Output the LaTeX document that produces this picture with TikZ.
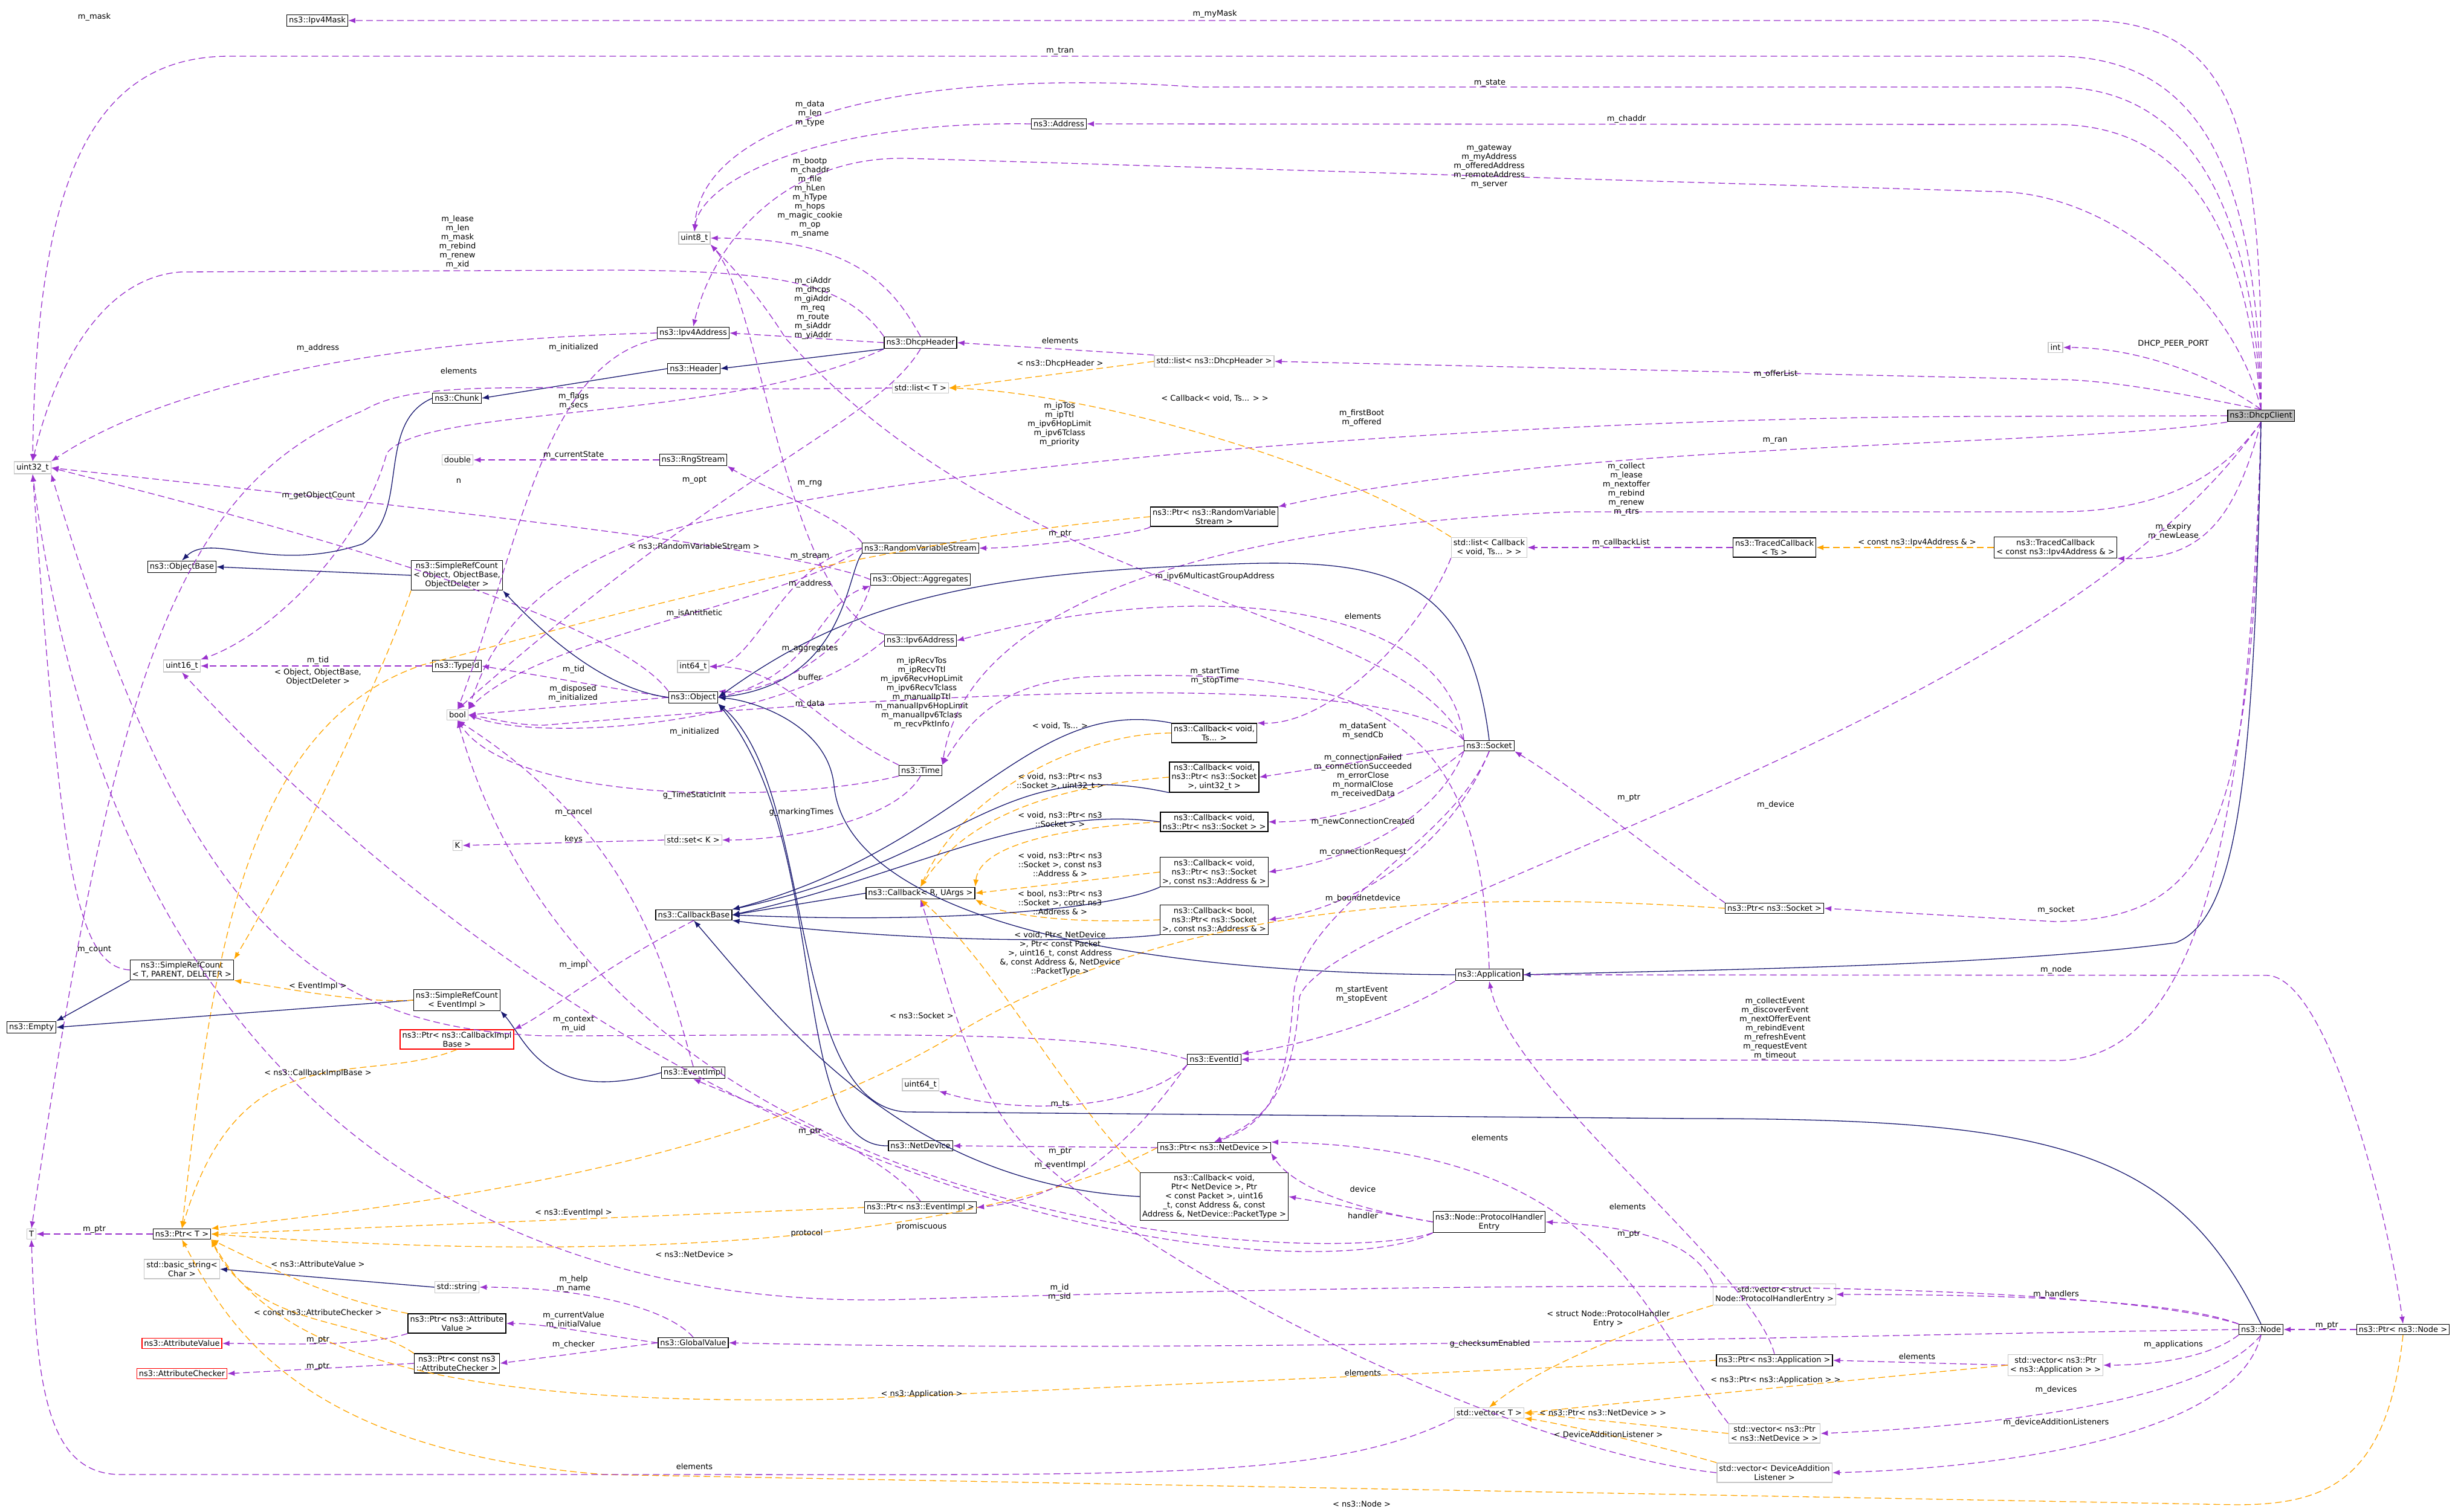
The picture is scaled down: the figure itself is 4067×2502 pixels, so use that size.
\documentclass[tikz,border=0pt]{standalone}
\usepackage{fontspec}
\setmainfont{DejaVu Sans}
\usetikzlibrary{arrows.meta}
\definecolor{memc}{HTML}{9A32CD}
\definecolor{inhc}{HTML}{191970}
\definecolor{tplc}{HTML}{FFA500}
\begin{document}
\begin{tikzpicture}[x=1pt,y=-1pt,
    every node/.style={font=\fontsize{13}{15}\selectfont,align=center},
    cls/.style={draw=black,line width=1.3pt,inner sep=3.5pt,fill=white},
    ext/.style={draw=gray!45,line width=1.3pt,inner sep=3.5pt,fill=white},
    redc/.style={draw=red,line width=1.3pt,inner sep=3.5pt,fill=white},
    mainc/.style={draw=black,line width=1.3pt,inner sep=3.5pt,fill=gray!55},
    lbl/.style={inner sep=0pt},
    mem/.style={draw=memc,dash pattern=on 11pt off 6pt,line width=1.3pt,-{Latex[length=12pt,width=9pt]}},
    inh/.style={draw=inhc,line width=1.3pt,-{Latex[length=12pt,width=9pt]}},
    tpl/.style={draw=tplc,dash pattern=on 11pt off 6pt,line width=1.3pt,-{Latex[length=12pt,width=9pt]}}]
  \useasboundingbox (0,0) rectangle (4067,2502);

  % nodes
  \node[mainc] (dc) at (3741,688) {ns3::DhcpClient};
  \node[cls] (mask) at (525,34) {ns3::Ipv4Mask};
  \node[ext] (uint32) at (54,774) {uint32\_t};
  \node[cls] (addr) at (1752,205) {ns3::Address};
  \node[ext] (uint8) at (1149,394) {uint8\_t};
  \node[cls] (ipv4) at (1147,551) {ns3::Ipv4Address};
  \node[cls] (header) at (1148,610) {ns3::Header};
  \node[cls] (chunk) at (756,659) {ns3::Chunk};
  \node[cls] (dhcph) at (1523,567) {ns3::DhcpHeader};
  \node[ext] (lsth) at (2009,598) {std::list< ns3::DhcpHeader >};
  \node[ext] (lstt) at (1523,642) {std::list< T >};
  \node[ext] (int) at (3401,575) {int};
  \node[ext] (dbl) at (757,761) {double};
  \node[cls] (rng) at (1147,761) {ns3::RngStream};
  \node[cls] (prvs) at (2009,855) {ns3::Ptr< ns3::RandomVariable\\Stream >};
  \node[cls] (rvs) at (1523,907) {ns3::RandomVariableStream};
  \node[cls] (aggr) at (1523,959) {ns3::Object::Aggregates};
  \node[ext] (lstcb) at (2464,906) {std::list< Callback\\< void, Ts... > >};
  \node[cls] (tcts) at (2936,906) {ns3::TracedCallback\\< Ts >};
  \node[cls] (tcip) at (3401,906) {ns3::TracedCallback\\< const ns3::Ipv4Address \& >};
  \node[cls] (ipv6) at (1523,1060) {ns3::Ipv6Address};
  \node[cls] (objbase) at (301,938) {ns3::ObjectBase};
  \node[cls] (srcobj) at (756,952) {ns3::SimpleRefCount\\< Object, ObjectBase,\\ObjectDeleter >};
  \node[ext] (uint16) at (301,1102) {uint16\_t};
  \node[cls] (typeid) at (756,1102) {ns3::TypeId};
  \node[ext] (int64) at (1147,1103) {int64\_t};
  \node[cls] (obj) at (1147,1154) {ns3::Object};
  \node[ext] (bool) at (757,1183) {bool};
  \node[cls] (cbts) at (2009,1213) {ns3::Callback< void,\\Ts... >};
  \node[cls] (sock) at (2464,1234) {ns3::Socket};
  \node[cls] (time) at (1523,1275) {ns3::Time};
  \node[cls] (cbu32) at (2009,1286) {ns3::Callback< void,\\ns3::Ptr< ns3::Socket\\>, uint32\_t >};
  \node[cls] (cbsock) at (2009,1360) {ns3::Callback< void,\\ns3::Ptr< ns3::Socket > >};
  \node[cls] (cbaddr) at (2009,1443) {ns3::Callback< void,\\ns3::Ptr< ns3::Socket\\>, const ns3::Address \& >};
  \node[cls] (cbbool) at (2009,1522) {ns3::Callback< bool,\\ns3::Ptr< ns3::Socket\\>, const ns3::Address \& >};
  \node[cls] (cbr) at (1523,1478) {ns3::Callback< R, UArgs >};
  \node[ext] (kk) at (757,1399) {K};
  \node[ext] (setk) at (1147,1390) {std::set< K >};
  \node[cls] (cbbase) at (1148,1514) {ns3::CallbackBase};
  \node[cls] (psock) at (2936,1503) {ns3::Ptr< ns3::Socket >};
  \node[cls] (srct) at (301,1605) {ns3::SimpleRefCount\\< T, PARENT, DELETER >};
  \node[cls] (srcev) at (756,1655) {ns3::SimpleRefCount\\< EventImpl >};
  \node[cls] (empty) at (52,1700) {ns3::Empty};
  \node[redc] (pcib) at (756,1720) {ns3::Ptr< ns3::CallbackImpl\\Base >};
  \node[cls] (appl) at (2464,1613) {ns3::Application};
  \node[cls] (evid) at (2009,1753) {ns3::EventId};
  \node[cls] (evimpl) at (1147,1775) {ns3::EventImpl};
  \node[ext] (u64) at (1523,1795) {uint64\_t};
  \node[cls] (ndev) at (1523,1896) {ns3::NetDevice};
  \node[cls] (pnd) at (2009,1899) {ns3::Ptr< ns3::NetDevice >};
  \node[cls] (cbnd) at (2009,1980) {ns3::Callback< void,\\Ptr< NetDevice >, Ptr\\< const Packet >, uint16\\\_t, const Address \&, const\\Address \&, NetDevice::PacketType >};
  \node[cls] (pev) at (1523,1998) {ns3::Ptr< ns3::EventImpl >};
  \node[cls] (phe) at (2464,2022) {ns3::Node::ProtocolHandler\\Entry};
  \node[ext] (tt) at (52,2042) {T};
  \node[cls] (ptrt) at (301,2042) {ns3::Ptr< T >};
  \node[ext] (bstr) at (301,2100) {std::basic\_string<\\Char >};
  \node[ext] (sstr) at (756,2130) {std::string};
  \node[ext] (vphe) at (2936,2142) {std::vector< struct\\Node::ProtocolHandlerEntry >};
  \node[cls] (pav) at (756,2190) {ns3::Ptr< ns3::Attribute\\Value >};
  \node[cls] (node) at (3741,2200) {ns3::Node};
  \node[cls] (pnode) at (3976,2200) {ns3::Ptr< ns3::Node >};
  \node[redc] (avl) at (301,2223) {ns3::AttributeValue};
  \node[cls] (gv) at (1147,2222) {ns3::GlobalValue};
  \node[cls] (papp) at (2936,2251) {ns3::Ptr< ns3::Application >};
  \node[cls] (pach) at (756,2256) {ns3::Ptr< const ns3\\::AttributeChecker >};
  \node[ext] (vpapp) at (3401,2259) {std::vector< ns3::Ptr\\< ns3::Application > >};
  \node[redc] (ach) at (301,2273) {ns3::AttributeChecker};
  \node[ext] (vect) at (2464,2338) {std::vector< T >};
  \node[ext] (vpnd) at (2936,2372) {std::vector< ns3::Ptr\\< ns3::NetDevice > >};
  \node[ext] (vdal) at (2936,2437) {std::vector< DeviceAddition\\Listener >};

  % DhcpClient members
  \draw[mem] (dc.north) .. controls (3745,200) and (3700,22) .. (3420,34) -- (mask.east);
  \draw[mem] (dc.north) .. controls (3735,300) and (3650,93) .. (3400,93) -- (380,93) .. controls (150,93) and (60,300) .. (uint32.north);
  \draw[mem] (dc.north) .. controls (3725,300) and (3600,144) .. (3400,144) -- (1980,144) .. controls (1500,110) and (1160,200) .. (uint8.north);
  \draw[mem] (dc.north) .. controls (3715,350) and (3600,206) .. (3400,206) -- (addr.east);
  \draw[mem] (dc.north) .. controls (3700,500) and (3500,317) .. (3300,317) -- (1500,262) .. controls (1300,258) and (1180,400) .. (ipv4.north);
  \draw[mem] (dc.north) .. controls (3690,640) and (3560,575) .. (int.east);
  \draw[mem] (dc.north) .. controls (3650,660) and (3500,628) .. (3400,628) -- (lsth.east);
  \draw[mem] (dc.west) -- (3300,689) .. controls (2600,689) and (1500,760) .. (1100,880) .. controls (850,960) and (800,1100) .. (bool.north east);
  \draw[mem] (dc.south west) .. controls (3400,740) and (2600,730) .. (prvs.north east);
  \draw[mem] (dc.south) .. controls (3650,830) and (3500,847) .. (3400,847) -- (2600,847) .. controls (2000,870) and (1600,1000) .. (time.north east);
  \draw[mem] (dc.south) .. controls (3700,850) and (3650,928) .. (tcip.south east);
  \draw[mem] (dc.south) .. controls (3730,1400) and (3650,1520) .. (3400,1525) -- (psock.east);
  \draw[mem] (dc.south) .. controls (3400,1200) and (2200,1500) .. (2150,1650) .. controls (2140,1800) and (2100,1850) .. (pnd.north);
  \draw[mem] (dc.south) .. controls (3720,1500) and (3600,1755) .. (3400,1755) -- (evid.east);
  \draw[inh] (dc.south) .. controls (3730,1300) and (3700,1520) .. (3600,1560) .. controls (3300,1600) and (2800,1605) .. (appl.east);
  \draw[mem] (appl.east) -- (3750,1614) .. controls (3850,1614) and (3950,2000) .. (pnode.north);

  % headers and addresses
  \draw[mem] (addr.west) .. controls (1350,200) and (1160,300) .. (uint8.north);
  \draw[mem] (dhcph.north) .. controls (1480,480) and (1420,394) .. (uint8.east);
  \draw[mem] (dhcph.west) -- (ipv4.east);
  \draw[mem] (dhcph.north west) .. controls (1400,470) and (1300,447) .. (1000,447) -- (300,450) .. controls (150,460) and (80,650) .. (uint32.north);
  \draw[mem] (dhcph.south west) .. controls (1200,700) and (700,670) .. (640,750) .. controls (600,900) and (450,1050) .. (uint16.north east);
  \draw[mem] (dhcph.south) .. controls (1450,700) and (1200,780) .. (bool.north);
  \draw[inh] (dhcph.south west) -- (header.east);
  \draw[inh] (header.west) -- (chunk.east);
  \draw[inh] (chunk.west) .. controls (620,700) and (680,850) .. (600,900) .. controls (450,950) and (350,880) .. (objbase.north);
  \draw[mem] (lsth.north west) -- (dhcph.east);
  \draw[tpl] (lsth.west) -- (lstt.east);
  \draw[tpl] (lstcb.north west) .. controls (2200,760) and (1800,650) .. (lstt.east);
  \draw[mem] (lstt.west) .. controls (900,650) and (700,620) .. (600,680) .. controls (300,800) and (190,1100) .. (tt.north);
  \draw[mem] (ipv4.west) .. controls (700,560) and (300,620) .. (uint32.north east);
  \draw[mem] (ipv4.south west) .. controls (900,600) and (860,900) .. (bool.north);
  \draw[mem] (rng.west) -- (dbl.east);
  \draw[mem] (rvs.north west) .. controls (1400,860) and (1250,800) .. (rng.south east);
  \draw[mem] (rvs.west) .. controls (1300,1000) and (900,1050) .. (bool.north east);
  \draw[mem] (rvs.west) .. controls (1300,920) and (1250,1100) .. (int64.east);
  \draw[inh] (rvs.south west) .. controls (1400,950) and (1400,1130) .. (obj.east);
  \draw[mem] (prvs.south west) .. controls (1900,880) and (1700,907) .. (rvs.east);
  \draw[tpl] (prvs.west) .. controls (1400,900) and (900,1050) .. (700,1100) .. controls (400,1200) and (350,1600) .. (ptrt.north);

  % object
  \draw[mem] (obj.north west) .. controls (1000,1000) and (300,830) .. (uint32.east);
  \draw[mem] (aggr.west) .. controls (1300,900) and (500,820) .. (uint32.east);
  \draw[mem] (obj.west) -- (typeid.east);
  \draw[mem] (typeid.west) -- (uint16.east);
  \draw[mem] (obj.west) -- (bool.east);
  \draw[mem] (obj.east) .. controls (1350,1120) and (1350,1000) .. (aggr.south west);
  \draw[mem] (aggr.south west) .. controls (1400,1100) and (1250,1150) .. (obj.north east);
  \draw[mem] (time.north west) .. controls (1350,1200) and (1300,1103) .. (int64.east);
  \draw[mem] (time.south west) .. controls (1300,1330) and (850,1330) .. (bool.south);
  \draw[mem] (time.south) .. controls (1480,1360) and (1300,1390) .. (setk.east);
  \draw[mem] (setk.west) -- (kk.east);
  \draw[mem] (evimpl.north) .. controls (1100,1600) and (1050,1380) .. (bool.south);
  \draw[mem] (ipv6.west) .. controls (1300,1200) and (900,1230) .. (bool.east);
  \draw[mem] (ipv6.north west) .. controls (1300,1000) and (1260,500) .. (uint8.south east);
  \draw[inh] (srcobj.west) -- (objbase.east);
  \draw[inh] (obj.west) .. controls (1000,1140) and (900,1050) .. (srcobj.south east);
  \draw[tpl] (srcobj.south west) .. controls (640,1100) and (500,1400) .. (srct.north east);
  \draw[inh] (srct.south west) -- (empty.north east);
  \draw[inh] (srcev.west) -- (empty.east);
  \draw[tpl] (srcev.west) .. controls (600,1660) and (500,1640) .. (srct.south east);
  \draw[mem] (srct.west) .. controls (120,1600) and (100,1400) .. (uint32.south);
  \draw[inh] (evimpl.west) .. controls (900,1830) and (870,1720) .. (srcev.south east);
  \draw[mem] (cbbase.south) .. controls (1000,1600) and (900,1680) .. (pcib.north east);
  \draw[tpl] (pcib.south) .. controls (600,1800) and (400,1700) .. (ptrt.north);
  \draw[mem] (ptrt.west) -- (tt.east);
  \draw[inh] (sstr.west) -- (bstr.east);
  \draw[mem] (gv.north) .. controls (1100,2160) and (950,2130) .. (sstr.east);
  \draw[mem] (gv.west) .. controls (1000,2210) and (900,2190) .. (pav.east);
  \draw[mem] (gv.west) -- (pach.east);
  \draw[mem] (pav.south west) .. controls (600,2230) and (450,2223) .. (avl.east);
  \draw[mem] (pach.west) -- (ach.east);
  \draw[tpl] (pav.north west) .. controls (550,2150) and (450,2100) .. (ptrt.south east);
  \draw[tpl] (pach.north west) .. controls (600,2180) and (420,2200) .. (ptrt.south east);
  \draw[tpl] (pev.west) -- (ptrt.east);
  \draw[tpl] (pnd.west) .. controls (1800,1960) and (1400,2120) .. (ptrt.east);
  \draw[tpl] (psock.west) .. controls (2500,1480) and (2000,1470) .. (1600,1700) .. controls (1200,1950) and (600,2000) .. (ptrt.north east);
  \draw[tpl] (papp.west) -- (1400,2315) .. controls (700,2330) and (450,2230) .. (ptrt.south east);
  \draw[tpl] (pnode.south) .. controls (3950,2450) and (3850,2490) .. (3700,2490) -- (1000,2440) .. controls (500,2400) and (380,2200) .. (ptrt.south);

  % node and containers
  \draw[mem] (node.west) .. controls (3000,2210) and (2000,2240) .. (gv.east);
  \draw[mem] (vect.south west) .. controls (2200,2450) and (1900,2440) .. (1100,2440) -- (200,2440) .. controls (80,2440) and (60,2300) .. (tt.south);
  \draw[mem] (node.north west) .. controls (3400,2100) and (2200,2130) .. (1500,2150) .. controls (900,2170) and (200,1900) .. (uint32.south);
  \draw[mem] (phe.south west) .. controls (2200,2100) and (1000,2050) .. (bool.south);
  \draw[mem] (phe.south west) .. controls (2200,2130) and (1200,2080) .. (uint16.south);
  \draw[mem] (phe.west) .. controls (2300,2010) and (2150,1980) .. (pnd.south east);
  \draw[mem] (phe.west) -- (cbnd.east);
  \draw[mem] (vphe.north west) .. controls (2800,2050) and (2700,2030) .. (phe.east);
  \draw[tpl] (vphe.south west) .. controls (2700,2200) and (2550,2260) .. (vect.north);
  \draw[mem] (node.north west) .. controls (3600,2150) and (3300,2142) .. (vphe.east);
  \draw[mem] (node.south west) .. controls (3650,2250) and (3550,2259) .. (vpapp.east);
  \draw[mem] (vpapp.west) -- (papp.east);
  \draw[tpl] (vpapp.west) .. controls (3000,2290) and (2700,2320) .. (vect.east);
  \draw[mem] (node.south) .. controls (3650,2320) and (3300,2360) .. (vpnd.east);
  \draw[mem] (vpnd.north west) .. controls (2700,2150) and (2650,1900) .. (pnd.north east);
  \draw[tpl] (vpnd.west) -- (vect.east);
  \draw[mem] (node.south) .. controls (3700,2380) and (3300,2430) .. (vdal.east);
  \draw[tpl] (vdal.north west) .. controls (2700,2380) and (2550,2350) .. (vect.south east);
  \draw[mem] (vdal.west) .. controls (2500,2400) and (1900,2100) .. (1700,1900) .. controls (1600,1800) and (1560,1600) .. (cbr.south);
  \draw[mem] (papp.north) .. controls (2900,2100) and (2500,1800) .. (appl.south);
  \draw[mem] (pnode.west) -- (node.east);
  \draw[mem] (psock.north west) .. controls (2750,1420) and (2600,1300) .. (sock.south east);
  \draw[mem] (pnd.west) -- (ndev.east);
  \draw[mem] (pev.north) .. controls (1450,1900) and (1300,1850) .. (evimpl.south);
  \draw[mem] (evid.south west) .. controls (1900,1850) and (1800,1980) .. (pev.east);
  \draw[mem] (evid.south west) .. controls (1900,1830) and (1700,1850) .. (u64.south east);
  \draw[mem] (evid.west) .. controls (1800,1700) and (1400,1714) .. (900,1714) .. controls (500,1700) and (300,1500) .. (uint32.south east);

  % sockets, applications, callbacks
  \draw[mem] (appl.south west) .. controls (2300,1690) and (2150,1730) .. (evid.north east);
  \draw[mem] (appl.north) .. controls (2450,1200) and (2300,1100) .. (1800,1120) .. controls (1650,1130) and (1600,1200) .. (time.north east);
  \draw[mem] (sock.south) .. controls (2400,1400) and (2150,1500) .. (2140,1650) .. controls (2130,1800) and (2100,1860) .. (pnd.north);
  \draw[mem] (sock.west) -- (cbu32.east);
  \draw[mem] (sock.south west) .. controls (2350,1300) and (2250,1360) .. (cbsock.east);
  \draw[mem] (sock.south west) .. controls (2380,1350) and (2250,1420) .. (cbaddr.east);
  \draw[mem] (sock.south) .. controls (2400,1400) and (2250,1500) .. (cbbool.east);
  \draw[mem] (sock.north west) .. controls (2300,1000) and (1700,1000) .. (1300,560) .. controls (1250,480) and (1200,430) .. (uint8.south east);
  \draw[mem] (sock.north west) .. controls (2300,1100) and (1500,1150) .. (900,1200) .. controls (850,1200) and (820,1190) .. (bool.east);
  \draw[mem] (sock.north west) .. controls (2400,1000) and (2000,950) .. (ipv6.east);
  \draw[inh] (sock.north) .. controls (2430,950) and (2300,920) .. (2000,935) .. controls (1600,950) and (1400,1000) .. (obj.east);
  \draw[mem] (lstcb.south west) .. controls (2350,1050) and (2200,1200) .. (cbts.north east);
  \draw[mem] (tcts.west) -- (lstcb.east);
  \draw[tpl] (tcip.west) -- (tcts.east);
  \draw[tpl] (cbts.west) .. controls (1800,1213) and (1600,1300) .. (cbr.north);
  \draw[tpl] (cbu32.west) .. controls (1750,1300) and (1600,1350) .. (cbr.north);
  \draw[tpl] (cbsock.west) .. controls (1750,1370) and (1620,1400) .. (cbr.north east);
  \draw[tpl] (cbaddr.west) -- (cbr.east);
  \draw[tpl] (cbbool.west) .. controls (1750,1530) and (1650,1510) .. (cbr.south east);
  \draw[tpl] (cbnd.north west) .. controls (1750,1800) and (1650,1600) .. (cbr.south);
  \draw[inh] (cbts.north west) .. controls (1700,1150) and (1600,1400) .. (cbbase.north east);
  \draw[inh] (cbu32.south west) .. controls (1650,1250) and (1600,1420) .. (cbbase.north east);
  \draw[inh] (cbsock.west) .. controls (1700,1330) and (1500,1450) .. (cbbase.east);
  \draw[inh] (cbr.west) -- (cbbase.east);
  \draw[inh] (cbaddr.south west) .. controls (1850,1500) and (1600,1530) .. (cbbase.east);
  \draw[inh] (cbbool.south west) .. controls (1800,1560) and (1500,1560) .. (cbbase.south east);
  \draw[inh] (cbnd.west) .. controls (1500,1960) and (1300,1700) .. (cbbase.south);
  \draw[inh] (appl.west) .. controls (1800,1610) and (1400,1500) .. (1380,1300) .. controls (1370,1200) and (1250,1160) .. (obj.east);
  \draw[inh] (ndev.west) .. controls (1300,1900) and (1380,1400) .. (obj.south east);
  \draw[inh] (node.north) .. controls (3600,1900) and (3400,1851) .. (2800,1851) -- (1500,1840) .. controls (1300,1830) and (1350,1300) .. (obj.south east);

  % labels
  \node[lbl] at (2010,23) {m\_myMask};
  \node[lbl] at (1754,84) {m\_tran};
  \node[lbl] at (2465,137) {m\_state};
  \node[lbl] at (2691,197) {m\_chaddr};
  \node[lbl] at (2464,275) {m\_gateway\\m\_myAddress\\m\_offeredAddress\\m\_remoteAddress\\m\_server};
  \node[lbl] at (3596,569) {DHCP\_PEER\_PORT};
  \node[lbl] at (2938,619) {m\_offerList};
  \node[lbl] at (2253,692) {m\_firstBoot\\m\_offered};
  \node[lbl] at (2937,729) {m\_ran};
  \node[lbl] at (2691,810) {m\_collect\\m\_lease\\m\_nextoffer\\m\_rebind\\m\_renew\\m\_rtrs};
  \node[lbl] at (3596,880) {m\_expiry\\m\_newLease};
  \node[lbl] at (3402,1506) {m\_socket};
  \node[lbl] at (2938,1332) {m\_device};
  \node[lbl] at (2937,1702) {m\_collectEvent\\m\_discoverEvent\\m\_nextOfferEvent\\m\_rebindEvent\\m\_refreshEvent\\m\_requestEvent\\m\_timeout};
  \node[lbl] at (3402,1605) {m\_node};
  \node[lbl] at (1340,188) {m\_data\\m\_len\\m\_type};
  \node[lbl] at (1340,327) {m\_bootp\\m\_chaddr\\m\_file\\m\_hLen\\m\_hType\\m\_hops\\m\_magic\_cookie\\m\_op\\m\_sname};
  \node[lbl] at (1345,510) {m\_ciAddr\\m\_dhcps\\m\_giAddr\\m\_req\\m\_route\\m\_siAddr\\m\_yiAddr};
  \node[lbl] at (757,401) {m\_lease\\m\_len\\m\_mask\\m\_rebind\\m\_renew\\m\_xid};
  \node[lbl] at (949,664) {m\_flags\\m\_secs};
  \node[lbl] at (1754,564) {elements};
  \node[lbl] at (1754,602) {< ns3::DhcpHeader >};
  \node[lbl] at (2010,659) {< Callback< void, Ts... > >};
  \node[lbl] at (759,614) {elements};
  \node[lbl] at (526,576) {m\_address};
  \node[lbl] at (949,575) {m\_initialized};
  \node[lbl] at (949,753) {m\_currentState};
  \node[lbl] at (1340,800) {m\_rng};
  \node[lbl] at (1149,794) {m\_opt};
  \node[lbl] at (1149,1015) {m\_isAntithetic};
  \node[lbl] at (1340,920) {m\_stream};
  \node[lbl] at (1340,966) {m\_address};
  \node[lbl] at (1754,883) {m\_ptr};
  \node[lbl] at (1149,904) {< ns3::RandomVariableStream >};
  \node[lbl] at (527,820) {m\_getObjectCount};
  \node[lbl] at (759,796) {n};
  \node[lbl] at (949,1108) {m\_tid};
  \node[lbl] at (526,1093) {m\_tid};
  \node[lbl] at (526,1120) {< Object, ObjectBase,\\ObjectDeleter >};
  \node[lbl] at (948,1148) {m\_disposed\\m\_initialized};
  \node[lbl] at (1340,1073) {m\_aggregates};
  \node[lbl] at (1340,1121) {buffer};
  \node[lbl] at (1340,1165) {m\_data};
  \node[lbl] at (1149,1211) {m\_initialized};
  \node[lbl] at (1149,1316) {g\_TimeStaticInit};
  \node[lbl] at (1326,1344) {g\_markingTimes};
  \node[lbl] at (949,1389) {keys};
  \node[lbl] at (949,1344) {m\_cancel};
  \node[lbl] at (526,1632) {< EventImpl >};
  \node[lbl] at (156,1571) {m\_count};
  \node[lbl] at (949,1597) {m\_impl};
  \node[lbl] at (526,1776) {< ns3::CallbackImplBase >};
  \node[lbl] at (156,2034) {m\_ptr};
  \node[lbl] at (526,2092) {< ns3::AttributeValue >};
  \node[lbl] at (526,2172) {< const ns3::AttributeChecker >};
  \node[lbl] at (949,2125) {m\_help\\m\_name};
  \node[lbl] at (949,2185) {m\_currentValue\\m\_initialValue};
  \node[lbl] at (949,2225) {m\_checker};
  \node[lbl] at (526,2217) {m\_ptr};
  \node[lbl] at (526,2261) {m\_ptr};
  \node[lbl] at (949,2007) {< ns3::EventImpl >};
  \node[lbl] at (1149,2076) {< ns3::NetDevice >};
  \node[lbl] at (1525,1681) {< ns3::Socket >};
  \node[lbl] at (1525,2307) {< ns3::Application >};
  \node[lbl] at (2253,2489) {< ns3::Node >};
  \node[lbl] at (2465,2224) {g\_checksumEnabled};
  \node[lbl] at (1149,2427) {elements};
  \node[lbl] at (1753,2139) {m\_id\\m\_sid};
  \node[lbl] at (1525,2030) {promiscuous};
  \node[lbl] at (1335,2041) {protocol};
  \node[lbl] at (2255,1968) {device};
  \node[lbl] at (2255,2012) {handler};
  \node[lbl] at (2693,1997) {elements};
  \node[lbl] at (2661,2182) {< struct Node::ProtocolHandler\\Entry >};
  \node[lbl] at (3402,2142) {m\_handlers};
  \node[lbl] at (3596,2225) {m\_applications};
  \node[lbl] at (3172,2245) {elements};
  \node[lbl] at (2938,2284) {< ns3::Ptr< ns3::Application > >};
  \node[lbl] at (3402,2300) {m\_devices};
  \node[lbl] at (2465,1883) {elements};
  \node[lbl] at (2652,2338) {< ns3::Ptr< ns3::NetDevice > >};
  \node[lbl] at (3402,2354) {m\_deviceAdditionListeners};
  \node[lbl] at (2661,2374) {< DeviceAdditionListener >};
  \node[lbl] at (2255,2272) {elements};
  \node[lbl] at (2695,2042) {m\_ptr};
  \node[lbl] at (3850,2193) {m\_ptr};
  \node[lbl] at (2695,1320) {m\_ptr};
  \node[lbl] at (1754,1905) {m\_ptr};
  \node[lbl] at (1340,1872) {m\_ptr};
  \node[lbl] at (1754,1928) {m\_eventImpl};
  \node[lbl] at (1754,1827) {m\_ts};
  \node[lbl] at (949,1695) {m\_context\\m\_uid};
  \node[lbl] at (2253,1646) {m\_startEvent\\m\_stopEvent};
  \node[lbl] at (2010,1119) {m\_startTime\\m\_stopTime};
  \node[lbl] at (2255,1487) {m\_boundnetdevice};
  \node[lbl] at (2255,1210) {m\_dataSent\\m\_sendCb};
  \node[lbl] at (2255,1284) {m\_connectionFailed\\m\_connectionSucceeded\\m\_errorClose\\m\_normalClose\\m\_receivedData};
  \node[lbl] at (2255,1360) {m\_newConnectionCreated};
  \node[lbl] at (2255,1410) {m\_connectionRequest};
  \node[lbl] at (1753,702) {m\_ipTos\\m\_ipTtl\\m\_ipv6HopLimit\\m\_ipv6Tclass\\m\_priority};
  \node[lbl] at (1525,1147) {m\_ipRecvTos\\m\_ipRecvTtl\\m\_ipv6RecvHopLimit\\m\_ipv6RecvTclass\\m\_manualIpTtl\\m\_manualIpv6HopLimit\\m\_manualIpv6Tclass\\m\_recvPktInfo};
  \node[lbl] at (2010,954) {m\_ipv6MulticastGroupAddress};
  \node[lbl] at (2255,1020) {elements};
  \node[lbl] at (2682,898) {m\_callbackList};
  \node[lbl] at (3172,898) {< const ns3::Ipv4Address \& >};
  \node[lbl] at (1754,1201) {< void, Ts... >};
  \node[lbl] at (1754,1294) {< void, ns3::Ptr< ns3\\::Socket >, uint32\_t >};
  \node[lbl] at (1754,1356) {< void, ns3::Ptr< ns3\\::Socket > >};
  \node[lbl] at (1754,1431) {< void, ns3::Ptr< ns3\\::Socket >, const ns3\\::Address \& >};
  \node[lbl] at (1754,1494) {< bool, ns3::Ptr< ns3\\::Socket >, const ns3\\::Address \& >};
  \node[lbl] at (1754,1578) {< void, Ptr< NetDevice\\>, Ptr< const Packet\\>, uint16\_t, const Address\\\&, const Address \&, NetDevice\\::PacketType >};
  \node[lbl] at (156,28) {m\_mask};
\end{tikzpicture}
\end{document}
